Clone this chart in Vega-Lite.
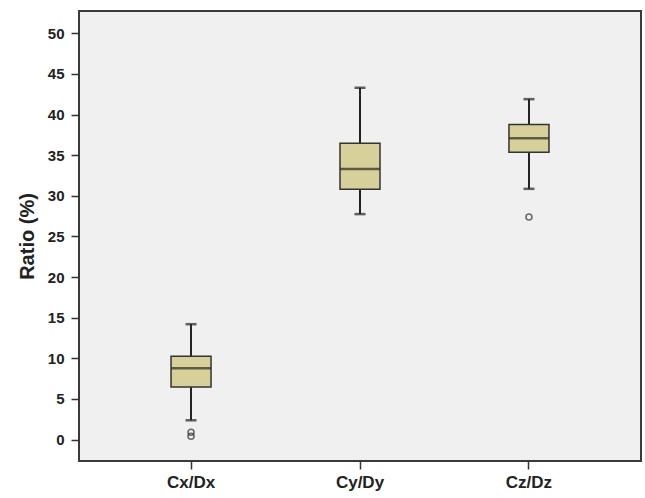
{
  "$schema": "https://vega.github.io/schema/vega-lite/v6.json",
  "width": 562,
  "height": 450,
  "autosize": "none",
  "padding": {"left": 79, "top": 11, "right": 4, "bottom": 37},
  "background": "#ffffff",
  "config": {
    "view": {"fill": "#f0f0f0", "stroke": "#3a3a3a", "strokeWidth": 2},
    "font": "Liberation Sans",
    "axis": {
      "domain": false,
      "ticks": true,
      "tickColor": "#333333",
      "tickWidth": 1.5,
      "tickSize": 8,
      "grid": false,
      "labelFont": "Liberation Sans",
      "labelFontWeight": "bold",
      "labelColor": "#222222",
      "titleFont": "Liberation Sans",
      "titleFontWeight": "bold",
      "titleColor": "#222222"
    }
  },
  "datasets": {
    "stats": [
      {"group": "Cx/Dx", "lo": 2.37, "q1": 6.48, "median": 8.77, "q3": 10.24, "hi": 14.2},
      {"group": "Cy/Dy", "lo": 27.75, "q1": 30.8, "median": 33.3, "q3": 36.48, "hi": 43.3},
      {"group": "Cz/Dz", "lo": 30.86, "q1": 35.37, "median": 37.1, "q3": 38.77, "hi": 41.9}
    ],
    "outliers": [
      {"group": "Cx/Dx", "value": 0.9},
      {"group": "Cx/Dx", "value": 0.4},
      {"group": "Cz/Dz", "value": 27.4}
    ]
  },
  "encoding": {
    "x": {
      "field": "group",
      "type": "nominal",
      "sort": ["Cx/Dx", "Cy/Dy", "Cz/Dz"],
      "scale": {"type": "band", "paddingInner": 0, "paddingOuter": 0.163},
      "axis": {"title": null, "labelAngle": 0, "labelFontSize": 17, "labelPadding": 5}
    }
  },
  "layer": [
    {
      "data": {"name": "stats"},
      "mark": {"type": "rule", "color": "#222222", "strokeWidth": 2},
      "encoding": {
        "y": {
          "field": "lo",
          "type": "quantitative",
          "scale": {"domain": [-2.64, 52.75], "nice": false, "zero": false},
          "axis": {
            "title": "Ratio (%)",
            "titleFontSize": 20,
            "titlePadding": 10,
            "values": [0, 5, 10, 15, 20, 25, 30, 35, 40, 45, 50],
            "labelFontSize": 15,
            "labelPadding": 7
          }
        },
        "y2": {"field": "hi"}
      }
    },
    {
      "data": {"name": "stats"},
      "mark": {"type": "tick", "color": "#222222", "thickness": 2.5, "size": 11},
      "encoding": {"y": {"field": "lo", "type": "quantitative"}}
    },
    {
      "data": {"name": "stats"},
      "mark": {"type": "tick", "color": "#222222", "thickness": 2.5, "size": 11},
      "encoding": {"y": {"field": "hi", "type": "quantitative"}}
    },
    {
      "data": {"name": "stats"},
      "mark": {"type": "bar", "size": 40, "fill": "#d8d09b", "stroke": "#333333", "strokeWidth": 1.5},
      "encoding": {
        "y": {"field": "q1", "type": "quantitative"},
        "y2": {"field": "q3"}
      }
    },
    {
      "data": {"name": "stats"},
      "mark": {"type": "tick", "color": "#2b2a1c", "thickness": 2.5, "size": 40},
      "encoding": {"y": {"field": "median", "type": "quantitative"}}
    },
    {
      "data": {"name": "outliers"},
      "mark": {"type": "point", "shape": "circle", "filled": false, "size": 36, "stroke": "#333333", "strokeWidth": 1.6},
      "encoding": {"y": {"field": "value", "type": "quantitative"}}
    }
  ]
}
